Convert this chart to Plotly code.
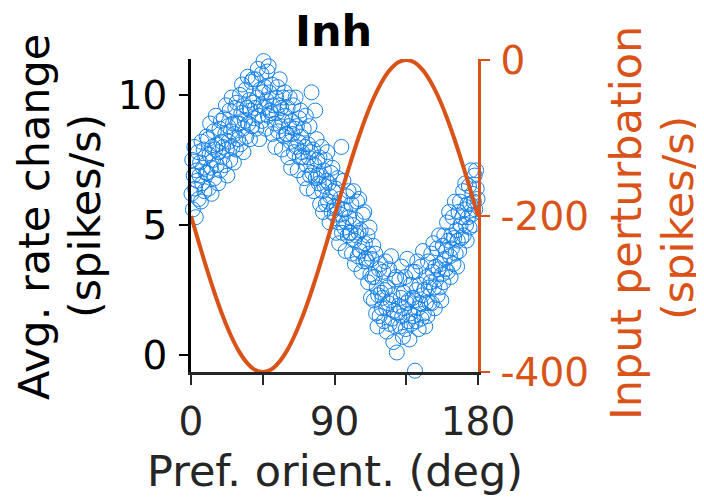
import plotly.graph_objects as go

# ---- data ----
pref_orient = [
    0.3,0.8,1.2,1.7,2.1,2.6,3.0,3.5,3.9,4.4,4.8,5.3,5.7,6.2,6.6,7.1,7.5,8.0,8.4,8.9,9.4,9.8,
    10.2,10.7,11.1,11.6,12.0,12.5,12.9,13.4,13.8,14.3,14.7,15.2,15.6,16.1,16.5,17.0,17.4,17.9,18.3,18.8,19.2,19.7,
    20.1,20.6,21.0,21.5,21.9,22.4,22.8,23.3,23.7,24.2,24.6,25.1,25.5,26.0,26.4,26.9,27.3,27.8,28.2,28.7,29.1,29.6,
    30.2,30.7,31.1,31.6,32.0,32.5,32.9,33.4,33.8,34.3,34.7,35.2,35.6,36.1,36.5,37.0,37.4,37.9,38.3,38.8,39.2,39.7,
    40.1,40.6,41.0,41.5,41.9,42.4,42.8,43.3,43.7,44.2,44.6,45.1,45.5,46.0,46.4,46.9,47.3,47.8,48.2,48.7,49.1,49.6,
    50.2,50.7,51.1,51.6,52.0,52.5,52.9,53.4,53.8,54.3,54.7,55.2,55.6,56.1,56.5,57.0,57.4,57.9,58.3,58.8,59.2,59.7,
    60.1,60.6,61.0,61.5,61.9,62.4,62.8,63.3,63.7,64.2,64.6,65.1,65.6,66.0,66.4,66.9,67.3,67.8,68.2,68.7,69.1,69.6,
    70.2,70.7,71.1,71.6,72.0,72.5,72.9,73.4,73.8,74.3,74.7,75.2,75.6,76.1,76.5,77.0,77.4,77.9,78.3,78.8,79.2,79.7,
    80.1,80.6,81.0,81.5,81.9,82.4,82.8,83.3,83.7,84.2,84.6,85.1,85.5,86.0,86.4,86.9,87.3,87.8,88.2,88.7,89.1,89.6,
    90.2,90.7,91.1,91.6,92.0,92.5,92.9,93.4,93.8,94.3,94.7,95.2,95.6,96.1,96.5,97.0,97.4,97.9,98.3,98.8,99.2,99.7,
    100.1,100.6,101.0,101.5,101.9,102.4,102.8,103.3,103.7,104.2,104.6,105.1,105.5,106.0,106.4,106.9,107.3,107.8,108.2,108.7,109.1,109.6,
    110.2,110.7,111.1,111.6,112.0,112.5,112.9,113.4,113.8,114.3,114.7,115.2,115.6,116.1,116.5,117.0,117.4,117.9,118.3,118.8,119.2,119.7,
    120.1,120.6,121.0,121.5,121.9,122.4,122.8,123.3,123.7,124.2,124.6,125.1,125.5,126.0,126.4,126.9,127.3,127.8,128.2,128.7,129.1,129.6,
    130.2,130.7,131.1,131.6,132.0,132.5,132.9,133.4,133.8,134.3,134.7,135.2,135.6,136.1,136.5,137.0,137.4,137.9,138.3,138.8,139.2,139.7,140.5,
    140.1,140.6,141.0,141.5,141.9,142.4,142.8,143.3,143.7,144.2,144.6,145.1,145.5,146.0,146.4,146.9,147.3,147.8,148.2,148.7,149.1,149.6,
    150.2,150.7,151.1,151.6,152.0,152.5,152.9,153.4,153.8,154.3,154.7,155.2,155.6,156.1,156.5,157.0,157.4,157.9,158.3,158.8,159.2,159.7,
    160.1,160.6,161.0,161.5,161.9,162.4,162.8,163.3,163.7,164.2,164.6,165.1,165.5,166.0,166.4,166.9,167.3,167.8,168.2,168.7,169.1,169.6,
    170.2,170.7,171.1,171.6,172.0,172.5,172.9,173.4,173.8,174.3,174.7,175.2,175.6,176.1,176.5,177.0,177.4,177.9,178.3,178.8,179.2,179.7,
]
rate_change = [
    6.2,7.5,5.6,6.9,8.0,6.4,5.3,7.1,6.7,7.8,6.0,6.9,7.4,5.9,8.2,6.6,7.2,7.9,6.3,7.6,7.0,8.4,
    7.0,8.3,6.4,7.7,8.9,7.2,6.2,8.0,7.5,8.6,6.8,7.9,9.2,7.3,8.1,6.6,7.8,8.7,7.1,9.0,8.2,7.6,
    8.0,9.1,7.3,8.5,9.6,7.9,6.9,8.8,8.2,9.4,7.5,8.6,9.9,8.0,8.9,7.4,8.5,9.5,7.9,9.7,8.9,8.3,
    8.9,10.0,8.1,9.3,10.4,8.7,7.8,9.6,9.0,10.2,8.4,9.5,10.7,8.9,9.8,8.3,9.4,10.5,8.8,10.6,9.7,9.1,
    9.5,10.6,8.7,9.9,11.0,9.2,8.3,10.2,9.6,10.8,9.0,10.1,11.3,9.5,10.3,8.7,9.8,10.9,9.2,11.1,10.1,9.4,
    9.3,10.4,8.5,9.6,11.4,8.9,8.0,9.9,9.3,10.3,8.6,9.6,10.6,8.8,9.5,7.9,9.0,9.9,8.4,10.1,9.2,8.5,
    8.5,9.5,7.6,8.8,9.9,8.2,7.2,9.0,8.5,9.6,7.8,8.7,9.9,8.0,8.8,7.1,8.2,9.1,7.6,9.4,8.4,7.8,
    7.6,8.7,6.8,8.0,9.2,7.3,6.4,8.1,7.6,8.8,6.9,7.8,10.1,7.0,7.9,6.3,7.3,9.4,6.8,8.3,7.5,6.9,
    6.6,7.6,5.8,6.9,8.0,6.3,5.5,7.1,6.5,7.5,5.8,6.7,7.8,5.9,6.6,5.1,6.1,7.0,5.5,7.2,6.3,5.7,
    5.4,6.4,4.7,5.7,6.8,5.1,4.3,6.0,5.4,8.0,4.7,5.6,6.7,4.9,5.6,4.0,5.1,6.1,4.6,6.3,5.3,4.7,
    4.7,5.8,3.9,5.0,6.3,4.4,3.5,5.2,4.6,5.9,3.8,4.7,6.0,4.0,4.8,3.2,4.2,5.4,3.6,5.5,4.3,3.7,
    3.6,4.6,2.8,3.9,4.9,3.1,2.2,3.7,3.0,4.2,2.1,3.0,3.9,1.6,2.6,1.1,2.3,3.3,1.5,3.5,2.4,1.8,
    2.2,3.2,1.3,2.5,3.6,1.8,0.9,2.6,2.0,3.3,1.2,2.1,3.8,1.4,2.3,0.5,1.7,2.9,1.1,3.0,0.1,1.6,
    1.9,2.9,1.1,2.2,3.4,1.5,0.7,2.4,1.8,3.0,1.0,2.0,3.7,1.3,2.1,0.6,1.6,2.7,1.2,3.2,2.2,1.5,-0.6,
    2.1,3.2,1.3,2.5,3.6,1.8,1.0,2.7,2.0,3.4,1.4,2.3,4.0,1.6,2.5,1.1,2.0,3.0,1.5,3.6,2.6,2.0,
    2.8,3.9,2.0,3.2,4.3,2.6,1.8,3.4,2.9,4.1,2.3,3.3,4.6,2.6,3.5,2.1,3.1,4.2,2.8,4.6,3.7,3.3,
    4.0,5.1,3.2,4.4,5.5,3.8,3.0,4.6,4.1,5.3,3.5,4.5,5.9,3.9,4.8,3.4,4.4,5.5,4.0,5.9,5.0,4.5,
    5.3,6.3,4.6,5.6,6.6,5.0,4.4,5.8,5.3,6.5,4.9,5.8,7.1,5.4,6.2,5.0,5.9,6.9,5.6,7.1,6.4,6.0,
]

input_orient = [0,5,10,15,20,25,30,35,40,45,50,55,60,65,70,75,80,85,90,
                95,100,105,110,115,120,125,130,135,140,145,150,155,160,165,170,175,180]
input_perturb = [-200,-234.7,-268.4,-300,-328.6,-353.2,-373.2,-387.9,-397.0,-400,-397.0,-387.9,
                 -373.2,-353.2,-328.6,-300,-268.4,-234.7,-200,-165.3,-131.6,-100,-71.4,-46.8,
                 -26.8,-12.1,-3.0,0,-3.0,-12.1,-26.8,-46.8,-71.4,-100,-131.6,-165.3,-200]

x_ticks = [0, 45, 90, 135, 180]
x_ticktext = ["0", "", "90", "", "180"]
left_ticks = [0, 5, 10]
left_ticktext = ["0", "5", "10"]
right_ticks = [-400, -200, 0]
right_ticktext = ["-400", "-200", "0"]

BLUE = "#1581e6"
ORANGE = "#d95319"
DARK = "#262626"
FONT = "DejaVu Sans"

# page body has an 8px margin; the figure is shrunk and shifted to compensate
OFF = 8
W, H = 704 - OFF, 498 - OFF
L, R, T, B = 191 - OFF, 478 - OFF, 59 - OFF, 372 - OFF  # plot area in figure pixels


def px(xp):
    return (xp - OFF - L) / (R - L)


def py(yp):
    return (B - (yp - OFF)) / (B - T)


fig = go.Figure()
fig.add_trace(go.Scatter(
    x=pref_orient, y=rate_change, mode="markers",
    marker=dict(symbol="circle-open", size=15, color=BLUE, line=dict(width=1, color=BLUE)),
    cliponaxis=False, showlegend=False, yaxis="y",
))
fig.add_trace(go.Scatter(
    x=input_orient, y=input_perturb, mode="lines",
    line=dict(color=ORANGE, width=4, shape="spline"),
    cliponaxis=False, showlegend=False, yaxis="y2",
))

annos = [
    dict(text="<b>Inh</b>", x=px(333), y=py(31), font=dict(size=43, color="black")),
    dict(text="Pref. orient. (deg)", x=px(335), y=py(471), font=dict(size=43, color=DARK)),
    dict(text="Avg. rate change", x=px(34), y=py(217), textangle=-90, font=dict(size=43, color="black")),
    dict(text="(spikes/s)", x=px(85), y=py(216), textangle=-90, font=dict(size=43, color="black")),
    dict(text="Input perturbation", x=px(626), y=py(223), textangle=-90, font=dict(size=43, color=ORANGE)),
    dict(text="(spikes/s)", x=px(678), y=py(218), textangle=-90, font=dict(size=43, color=ORANGE)),
]
for a in annos:
    a.update(xref="paper", yref="paper", xanchor="center", yanchor="middle", showarrow=False)
    a["font"]["family"] = FONT

fig.update_layout(
    width=W, height=H,
    margin=dict(l=L, r=W - R, t=T, b=H - B, autoexpand=False),
    paper_bgcolor="white", plot_bgcolor="white",
    font=dict(family=FONT, size=39, color=DARK),
    annotations=annos,
    xaxis=dict(range=[0, 180], tickvals=x_ticks, ticktext=x_ticktext, automargin=False,
               ticks="outside", ticklen=10, tickwidth=2, tickcolor=DARK,
               showline=True, linecolor=DARK, linewidth=2.5,
               showgrid=False, zeroline=False, ticklabelstandoff=3,
               tickfont=dict(size=39, color=DARK)),
    yaxis=dict(range=[-0.65, 11.38], tickvals=left_ticks, ticktext=left_ticktext, automargin=False,
               ticks="outside", ticklen=9, tickwidth=2, tickcolor="black",
               showline=True, linecolor="black", linewidth=2.5,
               showgrid=False, zeroline=False, ticklabelstandoff=4,
               tickfont=dict(size=39, color="black")),
    yaxis2=dict(range=[-400, 1.3], tickvals=right_ticks, ticktext=right_ticktext,
                overlaying="y", side="right", automargin=False,
                ticks="outside", ticklen=9, tickwidth=2, tickcolor=ORANGE,
                showline=True, linecolor=ORANGE, linewidth=2.5,
                showgrid=False, zeroline=False, ticklabelstandoff=3,
                tickfont=dict(size=39, color=ORANGE)),
)

fig.write_html("out.html")
